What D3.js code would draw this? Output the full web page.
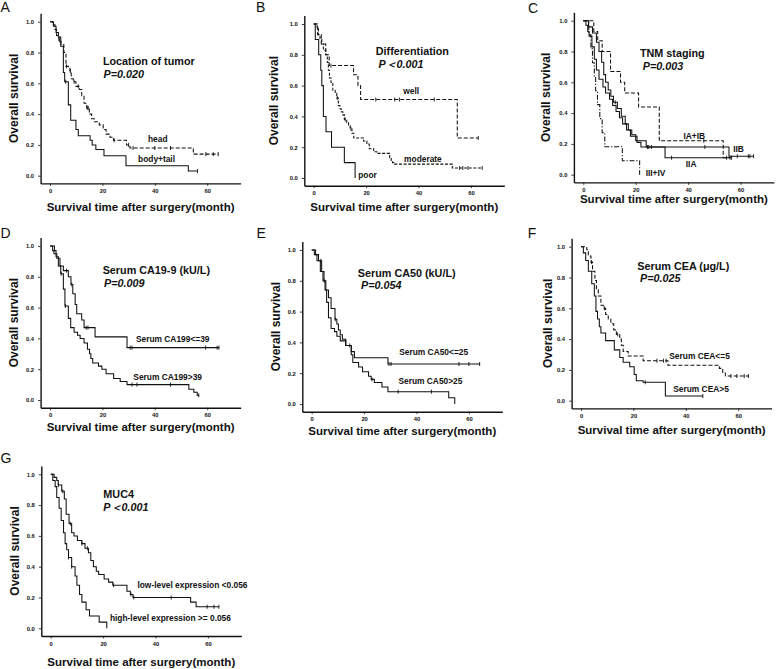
<!DOCTYPE html>
<html><head><meta charset="utf-8">
<script src="https://cdn.jsdelivr.net/npm/d3@7/dist/d3.min.js"></script>
<style>
body{margin:0;background:#fff}
svg{display:block}
text{font-family:"Liberation Sans",Arial,Helvetica,sans-serif}
</style>
</head><body>
<svg id="chart" width="779" height="669"></svg>
<script>
// ---------- DATA (event times in months, survival after each event, censor times) ----------
const xTicks = [0, 20, 40, 60];
const yTicks = [0, 0.2, 0.4, 0.6, 0.8, 1.0];
const xTitle = "Survival time after surgery(month)";
const yTitle = "Overall survival";

// A: Location of tumor
const A_head_t = [1.0,1.9,2.5,3.4,4.2,5.3,6.1,7.0,7.6,8.1,8.9,9.9,11.2,12.1,13.0,14.0,15.0,15.9,16.9,18.8,20.3,21.4,22.9,24.2,29.2,30.5,54.7];
const A_head_s = [0.98,0.95,0.91,0.88,0.85,0.80,0.71,0.70,0.68,0.63,0.61,0.58,0.56,0.52,0.47,0.44,0.40,0.37,0.35,0.33,0.30,0.27,0.25,0.23,0.20,0.18,0.14];
const A_head_c = [3.6,6.3,7.8,9.2,10.8,14.2,14.6,24.5,30.0,31.7,40.0,46.0,59.5,62.3,64.2];
const A_body_t = [1.3,2.3,3.2,4.1,5.1,5.6,7.0,7.9,9.9,10.8,15.3,16.1,17.5,20.6,29.0,52.8];
const A_body_s = [0.97,0.93,0.90,0.84,0.67,0.61,0.46,0.36,0.30,0.26,0.23,0.20,0.17,0.13,0.065,0.03];
const A_body_c = [6.0,56.3];

// B: Differentiation
const B_well_t = [1.5,2.9,4.6,5.9,15.2,16.9,17.9,54.8];
const B_well_s = [0.93,0.87,0.80,0.73,0.67,0.60,0.51,0.26];
const B_well_c = [6.6,23.7,30.9,32.7,46.0,62.8];
const B_mod_t = [1.3,1.8,2.4,3.1,3.7,4.6,5.2,5.6,6.0,6.6,7.3,8.2,8.8,9.4,10.0,10.5,11.1,11.7,12.6,13.3,13.9,14.6,15.3,19.0,20.3,21.2,22.9,24.1,29.0,29.6,30.1,30.9,52.9];
const B_mod_s = [0.97,0.93,0.90,0.87,0.83,0.80,0.75,0.70,0.65,0.62,0.57,0.55,0.52,0.47,0.45,0.43,0.41,0.38,0.36,0.34,0.32,0.29,0.26,0.24,0.22,0.19,0.17,0.16,0.13,0.11,0.10,0.09,0.065];
const B_mod_c = [9.0,12.0,14.2,55.7,56.9,58.9,64.3];
const B_poor_t = [0.6,1.9,2.7,3.1,3.7,4.7,6.8,11.7,15.8];
const B_poor_s = [0.90,0.80,0.70,0.60,0.40,0.30,0.20,0.10,0.0];
const B_poor_c = [];

// C: TNM staging
const C_I_t = [4.0,5.5,7.2,10.4,14.2,15.8,21.1,29.0,53.4];
const C_I_s = [0.93,0.87,0.80,0.67,0.60,0.53,0.44,0.22,0.11];
const C_I_c = [46.0,56.6];
const C_IIA_t = [1.0,1.7,2.2,3.3,4.2,5.0,6.0,7.5,8.5,10.0,11.2,12.5,13.8,15.0,16.5,18.0,20.5,22.0,31.2];
const C_IIA_s = [0.97,0.93,0.90,0.83,0.75,0.68,0.62,0.57,0.53,0.49,0.45,0.41,0.37,0.33,0.29,0.25,0.21,0.18,0.11];
const C_IIA_c = [24.5,33.7,54.7,56.0];
const C_IIB_t = [2.0,3.5,5.0,6.0,7.0,7.8,8.5,9.5,10.5,11.5,13.0,14.5,16.0,17.2,18.5,20.0,24.0,55.6];
const C_IIB_s = [0.96,0.92,0.86,0.80,0.73,0.65,0.60,0.55,0.51,0.47,0.43,0.38,0.33,0.29,0.26,0.22,0.18,0.12];
const C_IIB_c = [12.2,25.0,26.0,46.4,58.8,63.0,63.6,65.0];
const C_III_t = [2.1,2.9,3.5,4.2,4.7,5.4,6.3,7.2,8.2,14.9,21.5];
const C_III_s = [0.909,0.818,0.727,0.636,0.545,0.455,0.364,0.273,0.182,0.091,0.0];
const C_III_c = [];

// D: Serum CA19-9
const D_lo_t = [1.0,1.5,2.6,3.8,5.1,7.0,8.0,8.7,9.6,10.2,12.1,13.0,17.2,29.4];
const D_lo_s = [0.97,0.95,0.92,0.87,0.84,0.80,0.75,0.69,0.62,0.56,0.52,0.47,0.41,0.34];
const D_lo_c = [6.3,8.3,13.8,14.5,30.6,31.3,59.4,63.8,64.5];
const D_hi_t = [1.7,2.3,3.2,4.1,5.1,5.7,7.0,7.9,9.2,10.5,11.5,13.0,14.3,15.1,15.6,16.3,18.5,19.8,21.4,24.3,26.8,29.4,53.0,54.9,56.2];
const D_hi_s = [0.97,0.93,0.87,0.82,0.72,0.61,0.53,0.47,0.44,0.42,0.40,0.37,0.33,0.30,0.27,0.24,0.22,0.20,0.17,0.14,0.12,0.10,0.07,0.05,0.03];
const D_hi_c = [4.3,5.9,31.3,33.2,46.0,56.8];

// E: Serum CA50
const E_lo_t = [1.5,2.6,3.8,4.7,5.4,6.4,7.4,8.9,9.6,10.2,10.9,11.7,13.0,15.1,16.3,29.1];
const E_lo_s = [0.97,0.93,0.86,0.80,0.74,0.69,0.62,0.55,0.52,0.48,0.45,0.42,0.38,0.34,0.30,0.26];
const E_lo_c = [3.5,9.0,14.5,29.5,30.3,56.2,60.0,64.1];
const E_hi_t = [1.0,2.0,3.3,4.3,5.1,5.7,6.4,7.4,8.7,9.6,10.9,13.0,15.1,15.7,17.9,19.4,21.7,22.7,23.9,26.8,29.1,52.3,54.6];
const E_hi_s = [0.97,0.93,0.86,0.80,0.74,0.66,0.56,0.49,0.47,0.44,0.41,0.38,0.32,0.27,0.24,0.21,0.18,0.16,0.14,0.11,0.08,0.04,0.0];
const E_hi_c = [4.8,23.0,33.0,45.7];

// F: Serum CEA
const F_lo_t = [2.2,2.8,3.8,4.4,5.3,5.9,6.6,7.6,8.5,9.4,10.4,11.4,12.5,13.5,14.8,15.4,16.1,18.0,23.7,33.2,52.8,54.1,55.1];
const F_lo_s = [0.98,0.94,0.90,0.84,0.78,0.72,0.68,0.62,0.60,0.56,0.53,0.50,0.46,0.43,0.40,0.36,0.32,0.29,0.26,0.23,0.21,0.18,0.16];
const F_lo_c = [4.0,9.0,14.0,29.0,31.5,32.5,57.2,59.5,62.3,63.9];
const F_hi_t = [0.9,1.8,2.8,4.1,5.1,5.7,6.3,7.0,7.6,9.4,12.7,14.8,16.1,18.6,20.3,21.1,23.7,32.2];
const F_hi_s = [0.96,0.91,0.84,0.76,0.68,0.58,0.53,0.48,0.44,0.39,0.33,0.28,0.25,0.22,0.17,0.13,0.12,0.03];
const F_hi_c = [24.5,46.5];

// G: MUC4
const G_lo_t = [1.3,2.3,2.9,4.2,5.2,5.9,7.0,8.0,8.9,10.2,11.9,13.1,14.4,15.3,16.3,17.4,18.3,20.4,22.1,23.7,29.1,30.4,31.4,53.4,55.5];
const G_lo_s = [0.98,0.96,0.93,0.89,0.84,0.74,0.68,0.62,0.60,0.57,0.55,0.52,0.49,0.44,0.40,0.37,0.35,0.32,0.30,0.28,0.24,0.22,0.20,0.17,0.14];
const G_lo_c = [2.9,4.6,7.5,11.9,14.0,24.0,30.6,31.7,46.0,59.7,62.3,64.2];
const G_hi_t = [0.8,1.7,2.3,3.2,4.0,4.9,5.5,6.1,6.8,8.0,9.3,10.0,11.0,11.9,13.5,14.8,18.5,21.4];
const G_hi_s = [0.96,0.92,0.85,0.78,0.70,0.62,0.55,0.51,0.46,0.40,0.34,0.28,0.22,0.17,0.12,0.08,0.04,0.0];
const G_hi_c = [6.8,8.0];

// ---------- LAYOUT ----------
const KX = 2.62, KY = 154;
const DASH = "4,2", SHORTDASH = "3,1.6", DASHDOT = "5,1.8,1.2,1.8";
const panels = [
 {letter:"A", lx:0.5, ly:12.2, x0:50, y1:21.7, xtd:28, ytd:22.4, title:"Location of tumor", p:"P=0.020", tAt:[20.2,0.719], pAt:[20.4,0.636],
  series:[{t:A_head_t,s:A_head_s,c:A_head_c,dash:DASH},{t:A_body_t,s:A_body_s,c:A_body_c,dash:null}],
  labels:[{text:"head",at:[37.4,0.221]},{text:"body+tail",at:[33.6,0.087]}]},
 {letter:"B", lx:256, ly:11.5, x0:313.7, y1:24, xtd:25, ytd:26.6, title:"Differentiation", p:"P\uFF1C0.001", tAt:[23.7,0.799], pAt:[24.7,0.716],
  series:[{t:B_well_t,s:B_well_s,c:B_well_c,dash:DASH},{t:B_mod_t,s:B_mod_s,c:B_mod_c,dash:SHORTDASH},{t:B_poor_t,s:B_poor_s,c:B_poor_c,dash:null}],
  labels:[{text:"well",at:[34.2,0.545]},{text:"moderate",at:[34.5,0.102]},{text:"poor",at:[17.0,0.002]}]},
 {letter:"C", lx:528, ly:12.5, x0:583.3, y1:20.7, xtd:21, ytd:24, title:"TNM staging", p:"P=0.003", tAt:[21.6,0.762], pAt:[22.7,0.680],
  series:[{t:C_I_t,s:C_I_s,c:C_I_c,dash:DASH},{t:C_IIA_t,s:C_IIA_s,c:C_IIA_c,dash:null},{t:C_IIB_t,s:C_IIB_s,c:C_IIB_c,dash:null},{t:C_III_t,s:C_III_s,c:C_III_c,dash:DASHDOT}],
  labels:[{text:"IA+IB",at:[38.2,0.230]},{text:"IIB",at:[57.2,0.145]},{text:"IIA",at:[39.1,0.052]},{text:"III+IV",at:[23.8,-0.008]}]},
 {letter:"D", lx:0.5, ly:237.5, x0:50, y1:246, xtd:23, ytd:22.4, title:"Serum CA19-9 (kU/L)", p:"P=0.009", tAt:[20.1,0.816], pAt:[20.6,0.736],
  series:[{t:D_lo_t,s:D_lo_s,c:D_lo_c,dash:null},{t:D_hi_t,s:D_hi_s,c:D_hi_c,dash:null}],
  labels:[{text:"Serum CA199<=39",at:[32.8,0.379]},{text:"Serum CA199>39",at:[31.8,0.130]}]},
 {letter:"E", lx:256.5, ly:237.7, x0:311.7, y1:250, xtd:23, ytd:22.4, title:"Serum CA50 (kU/L)", p:"P=0.054", tAt:[17.6,0.827], pAt:[18.8,0.745],
  series:[{t:E_lo_t,s:E_lo_s,c:E_lo_c,dash:null},{t:E_hi_t,s:E_hi_s,c:E_hi_c,dash:null}],
  labels:[{text:"Serum CA50<=25",at:[33.4,0.318]},{text:"Serum CA50>25",at:[33.1,0.128]}]},
 {letter:"F", lx:527.7, ly:237.5, x0:581, y1:246.7, xtd:26, ytd:20, title:"Serum CEA (\u03BCg/L)", p:"P=0.025", tAt:[21.5,0.849], pAt:[22.5,0.769],
  series:[{t:F_lo_t,s:F_lo_s,c:F_lo_c,dash:DASH},{t:F_hi_t,s:F_hi_s,c:F_hi_c,dash:null}],
  labels:[{text:"Serum CEA<=5",at:[33.7,0.271]},{text:"Serum CEA>5",at:[35.2,0.055]}]},
 {letter:"G", lx:0.5, ly:463, x0:50.7, y1:474.3, xtd:30, ytd:22.7, title:"MUC4", p:"P\uFF1C0.001", tAt:[20.1,0.844], pAt:[20.1,0.762],
  series:[{t:G_lo_t,s:G_lo_s,c:G_lo_c,dash:null},{t:G_hi_t,s:G_hi_s,c:G_hi_c,dash:null}],
  labels:[{text:"low-level expression <0.056",at:[33.1,0.260]},{text:"high-level expression >= 0.056",at:[22.6,0.047]}]}
];

const svg = d3.select("#chart");
const INK = "#111";

function survAt(t, s, time){
  let v = 1;
  for(let i=0;i<t.length;i++){ if(t[i] <= time) v = s[i]; }
  return v;
}

panels.forEach(P => {
  const left = P.x0 - 9.4, axisW = 200;
  const bottom = P.y1 + KY + 7.7, top = P.y1 - 8.4;
  const xs = d3.scaleLinear().domain([(left - P.x0)/KX, (left + axisW - P.x0)/KX]).range([left, left + axisW]);
  const ys = d3.scaleLinear().domain([(P.y1 + KY - bottom)/KY, (P.y1 + KY - top)/KY]).range([bottom, top]);
  const g = svg.append("g");

  // panel letter
  g.append("text").attr("x", P.lx).attr("y", P.ly).attr("font-size", 14).attr("fill", INK).text(P.letter);

  // axes
  const ax = g.append("g").attr("transform", `translate(0,${bottom})`)
    .call(d3.axisBottom(xs).tickValues(xTicks).tickSize(2.5).tickSizeOuter(0).tickPadding(3).tickFormat(d3.format("d")));
  const ay = g.append("g").attr("transform", `translate(${left},0)`)
    .call(d3.axisLeft(ys).tickValues(yTicks).tickSize(2.5).tickSizeOuter(0).tickPadding(4).tickFormat(d3.format(".1f")));
  [ax, ay].forEach(a => {
    a.select(".domain").attr("stroke", INK).attr("stroke-width", 1.4);
    a.selectAll(".tick line").attr("stroke", INK).attr("stroke-width", 0.8);
    a.selectAll(".tick text").attr("font-size", 5.8).attr("font-weight", "bold").attr("fill", INK)
      .attr("font-family", '"Liberation Sans",Arial,sans-serif');
  });

  // axis titles
  g.append("text").attr("x", left + axisW/2).attr("y", bottom + P.xtd)
    .attr("text-anchor", "middle").attr("font-size", 11.5).attr("font-weight", "bold").attr("fill", INK).text(xTitle);
  g.append("text").attr("transform", `translate(${left - P.ytd},${(top + bottom)/2}) rotate(-90)`)
    .attr("text-anchor", "middle").attr("font-size", 12).attr("font-weight", "bold").attr("fill", INK).text(yTitle);

  // curves
  const line = d3.line().x(d => xs(d[0])).y(d => ys(d[1])).curve(d3.curveStepAfter);
  P.series.forEach(S => {
    const pts = [[0, 1]];
    S.t.forEach((tt, i) => pts.push([tt, S.s[i]]));
    const lastT = S.t[S.t.length - 1], lastS = S.s[S.s.length - 1];
    const endT = Math.max(lastT, ...(S.c.length ? S.c : [lastT]));
    pts.push([endT, lastS]);
    g.append("path").attr("d", line(pts)).attr("fill", "none").attr("stroke", INK)
      .attr("stroke-width", 1.05).attr("stroke-dasharray", S.dash);
    S.c.forEach(c => {
      const v = survAt(S.t, S.s, c);
      g.append("line").attr("x1", xs(c)).attr("x2", xs(c)).attr("y1", ys(v) - 2).attr("y2", ys(v) + 2)
        .attr("stroke", INK).attr("stroke-width", 0.9);
    });
  });

  // annotations
  g.append("text").attr("x", xs(P.tAt[0])).attr("y", ys(P.tAt[1])).attr("font-size", 10.8)
    .attr("font-weight", "bold").attr("fill", INK).text(P.title);
  g.append("text").attr("x", xs(P.pAt[0])).attr("y", ys(P.pAt[1])).attr("font-size", 10.8)
    .attr("font-weight", "bold").attr("font-style", "italic").attr("fill", INK).text(P.p);
  P.labels.forEach(L => {
    g.append("text").attr("x", xs(L.at[0])).attr("y", ys(L.at[1])).attr("font-size", 8.4)
      .attr("font-weight", "bold").attr("fill", INK).text(L.text);
  });
});
</script>
</body></html>
